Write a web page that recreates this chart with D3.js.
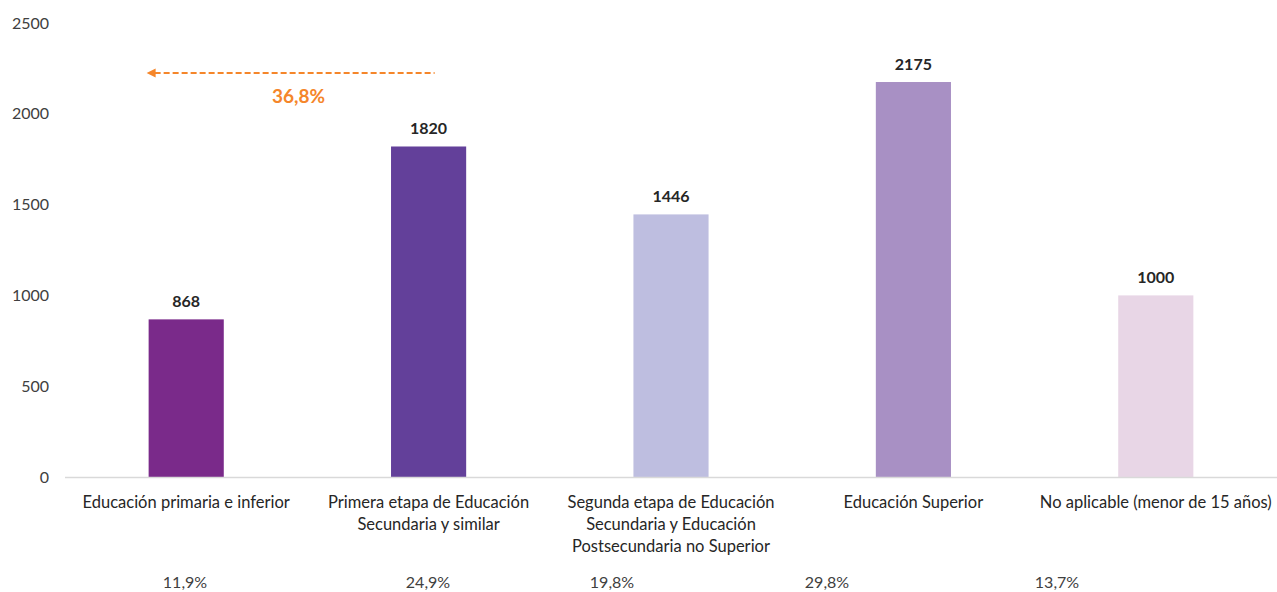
<!DOCTYPE html>
<html><head><meta charset="utf-8">
<script src="https://cdn.jsdelivr.net/npm/d3@7"></script>
<style>body{margin:0;background:#fff}svg{display:block}</style>
</head><body>
<svg id="c" width="1277" height="592"></svg>
<script>
const categories = [
  ["Educación primaria e inferior"],
  ["Primera etapa de Educación", "Secundaria y similar"],
  ["Segunda etapa de Educación", "Secundaria y Educación", "Postsecundaria no Superior"],
  ["Educación Superior"],
  ["No aplicable (menor de 15 años)"]
];
const values = [868, 1820, 1446, 2175, 1000];
const shares = ["11,9%", "24,9%", "19,8%", "29,8%", "13,7%"];
const cumulativeLabel = "36,8%";
const yTicks = [0, 500, 1000, 1500, 2000, 2500];
const colors = ["#7a2a8a", "#63409a", "#bebee0", "#a890c4", "#e8d6e6"];
// layout offsets for the share row (not data)
const shareX = [185, 428, 612, 827, 1057];

const font = "Lato, 'Open Sans', sans-serif";
const svg = d3.select("#c");
const x = d3.scaleBand().domain(d3.range(values.length)).range([65, 1277]).paddingInner(0.69).paddingOuter(0.345);
const y = d3.scaleLinear().domain([0, 2500]).range([477, 23]);

// y axis labels
const yAxis = d3.axisLeft(y).tickValues(yTicks).tickSize(0).tickPadding(0).tickFormat(d3.format("d"));
const ga = svg.append("g").attr("transform", "translate(49,0)").call(yAxis);
ga.select(".domain").remove();
ga.selectAll("text").attr("font-family", font).attr("font-size", 16).attr("fill", "#404040");

// bars
svg.selectAll("rect.bar").data(values).join("rect").attr("class", "bar")
  .attr("x", (d, i) => x(i)).attr("width", x.bandwidth())
  .attr("y", d => y(d)).attr("height", d => y(0) - y(d))
  .attr("fill", (d, i) => colors[i]);

// baseline
svg.append("line").attr("x1", 65).attr("x2", 1277).attr("y1", y(0) + 0.5).attr("y2", y(0) + 0.5)
  .attr("stroke", "#d9d9d9").attr("stroke-width", 1.5);

// value labels
svg.selectAll("text.val").data(values).join("text").attr("class", "val")
  .attr("x", (d, i) => x(i) + x.bandwidth() / 2).attr("y", d => y(d) - 12)
  .attr("text-anchor", "middle").attr("font-family", font).attr("font-size", 16)
  .attr("font-weight", "bold").attr("fill", "#262626").text(d => d);

// category labels
const cat = svg.selectAll("text.cat").data(categories).join("text").attr("class", "cat")
  .attr("text-anchor", "middle").attr("font-family", font).attr("font-size", 16.5).attr("fill", "#262626");
cat.each(function (lines, i) {
  d3.select(this).selectAll("tspan").data(lines).join("tspan")
    .attr("x", x(i) + x.bandwidth() / 2).attr("y", (l, j) => 508 + j * 22).text(l => l);
});

// shares
svg.selectAll("text.share").data(shares).join("text").attr("class", "share")
  .attr("x", (d, i) => shareX[i]).attr("y", 588).attr("text-anchor", "middle")
  .attr("font-family", font).attr("font-size", 16).attr("fill", "#404040").text(d => d);

// orange arrow
const orange = "#f5862a";
const ax1 = x(0) - 2, ax2 = x(1) + x.bandwidth() / 2 + 6, ay = 73;
svg.append("line").attr("x1", ax1 + 8).attr("x2", ax2).attr("y1", ay).attr("y2", ay)
  .attr("stroke", orange).attr("stroke-width", 2).attr("stroke-dasharray", "6,3");
svg.append("path").attr("d", `M${ax1},${ay} L${ax1 + 9},${ay - 4.5} L${ax1 + 9},${ay + 4.5} Z`).attr("fill", orange);
svg.append("text").attr("x", (ax1 + ax2) / 2 + 8).attr("y", 103).attr("text-anchor", "middle")
  .attr("font-family", font).attr("font-size", 19).attr("font-weight", "bold").attr("fill", orange).text(cumulativeLabel);
</script>
</body></html>
